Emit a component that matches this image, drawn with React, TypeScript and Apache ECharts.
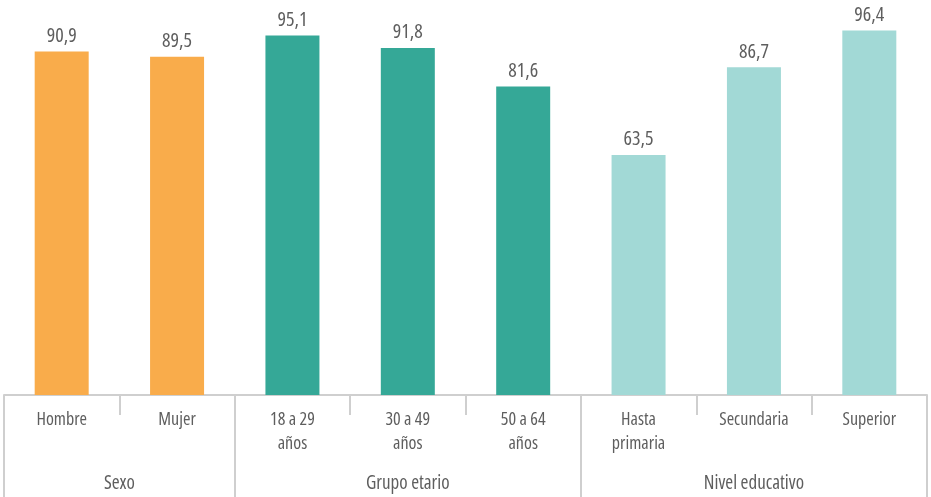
import React, { useEffect, useRef } from "react";
import * as echarts from "echarts";

const categories = [
  "Hombre",
  "Mujer",
  "18 a 29\naños",
  "30 a 49\naños",
  "50 a 64\naños",
  "Hasta\nprimaria",
  "Secundaria",
  "Superior",
];
const values = [90.9, 89.5, 95.1, 91.8, 81.6, 63.5, 86.7, 96.4];
const groupNames = ["Sexo", "Grupo etario", "Nivel educativo"];
const groupSizes = [2, 3, 3];
const groupColors = ["#F9AC4B", "#35A897", "#A2D9D6"];

const FONT = '"Open Sans", "Roboto", sans-serif';
const TEXT = "#5e5e5e";
const LINE = "#cfcfcf";

const PAGE_CSS = `
body { margin: 0; }
#root svg text { font-stretch: 75% !important; }
`;

export default function App() {
  const ref = useRef<HTMLDivElement>(null);

  useEffect(() => {
    if (!ref.current) return;
    const chart = echarts.init(ref.current, null, { renderer: "svg" });

    const groupOf: number[] = [];
    groupSizes.forEach((s, g) => {
      for (let i = 0; i < s; i++) groupOf.push(g);
    });

    const halfCount = categories.length * 2 + 1;
    const halfData = Array.from({ length: halfCount }, (_, i) => String(i));
    const labelAt: Record<number, string> = {};
    const boundaryAt = new Set<number>([0]);
    let start = 0;
    groupSizes.forEach((s, g) => {
      labelAt[start * 2 + s] = groupNames[g];
      start += s;
      boundaryAt.add(start * 2);
    });

    chart.setOption({
      animation: false,
      grid: {
        left: 4,
        right: 4,
        top: 17,
        bottom: 102,
        containLabel: false,
        outerBoundsMode: "none",
      },
      xAxis: [
        {
          type: "category",
          position: "bottom",
          data: categories,
          axisLine: { show: true, lineStyle: { color: LINE, width: 2 } },
          axisTick: {
            show: true,
            length: 20,
            lineStyle: { color: LINE, width: 2 },
          },
          axisLabel: {
            interval: 0,
            margin: 11,
            color: TEXT,
            fontFamily: FONT,
            fontSize: 18,
            lineHeight: 24,
          },
        },
        {
          type: "category",
          position: "bottom",
          boundaryGap: false,
          data: halfData,
          axisLine: { show: false },
          axisTick: {
            show: true,
            length: 102,
            interval: (index: number) => boundaryAt.has(index),
            lineStyle: { color: LINE, width: 2 },
          },
          axisLabel: {
            interval: 0,
            margin: 77,
            color: TEXT,
            fontFamily: FONT,
            fontSize: 19,
            formatter: (_v: string, index: number) => labelAt[index] ?? "",
          },
          splitLine: { show: false },
        },
      ],
      yAxis: {
        type: "value",
        min: 0,
        max: 100,
        show: false,
        splitLine: { show: false },
      },
      series: [
        {
          type: "bar",
          xAxisIndex: 0,
          barWidth: 54,
          data: values.map((v, i) => ({
            value: v,
            itemStyle: { color: groupColors[groupOf[i]] },
          })),
          label: {
            show: true,
            position: "top",
            distance: 7,
            color: TEXT,
            fontFamily: FONT,
            fontSize: 20,
            formatter: (p: any) => Number(p.value).toFixed(1).replace(".", ","),
          },
        },
      ],
    });

    return () => chart.dispose();
  }, []);

  return (
    <>
      <style>{PAGE_CSS}</style>
      <div
        ref={ref}
        style={{ position: "fixed", left: 0, top: 0, width: 931, height: 497 }}
      />
    </>
  );
}
